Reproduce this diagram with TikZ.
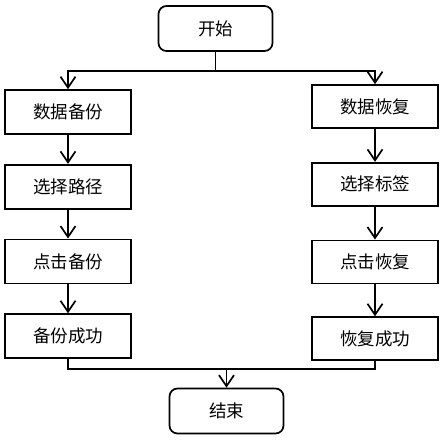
\documentclass[tikz,border=0pt]{standalone}
\usepackage{fontspec}
\setmainfont{Noto Sans CJK SC}
\usepackage{tikz}
\usetikzlibrary{arrows.meta,positioning,calc}

\begin{document}
\begin{tikzpicture}[
    x=1pt, y=1pt,
    line width=1.7pt,
    stepbox/.style={rectangle, draw=black, minimum width=126pt, minimum height=43pt, font=\fontsize{17.5}{20}\selectfont},
    terminal/.style={stepbox, rounded corners=8pt, minimum width=114pt, minimum height=45pt},
    arrow/.style={-{Straight Barb[length=11pt,width=15pt,line width=1.7pt]}}
]
    \useasboundingbox (0,0) rectangle (444,-440);
    % start and end
    \node[terminal] (start) at (215.5,-28.5) {开始};
    \node[terminal] (finish) at (226.5,-411) {结束};

    % left column: backup
    \node[stepbox, minimum height=44pt] (backup) at (68,-112) {数据备份};
    \node[stepbox, minimum height=44pt, below=29pt of backup] (path) {选择路径};
    \node[stepbox, minimum height=44pt, below=29pt of path] (clickbak) {点击备份};
    \node[stepbox, minimum height=44pt, below=29pt of clickbak] (bakdone) {备份成功};

    % right column: restore
    \node[stepbox] (restore) at (375,-106.5) {数据恢复};
    \node[stepbox, below=33pt of restore] (label) {选择标签};
    \node[stepbox, below=33pt of label] (clickres) {点击恢复};
    \node[stepbox, below=32pt of clickres] (resdone) {恢复成功};

    \coordinate (split) at ($(start.south)+(0,-19)$);
    \coordinate (merge) at (226.5,-369);

    \draw (start) -- (split);
    \draw[arrow] (split) -| (backup);
    \draw[arrow] (split) -| (restore);
    \draw[arrow] (backup) -- (path);
    \draw[arrow] (path) -- (clickbak);
    \draw[arrow] (clickbak) -- (bakdone);
    \draw[arrow] (restore) -- (label);
    \draw[arrow] (label) -- (clickres);
    \draw[arrow] (clickres) -- (resdone);
    \draw (bakdone) |- (merge);
    \draw (resdone) |- (merge);
    \draw[arrow] (merge) -- (finish);
\end{tikzpicture}
\end{document}
